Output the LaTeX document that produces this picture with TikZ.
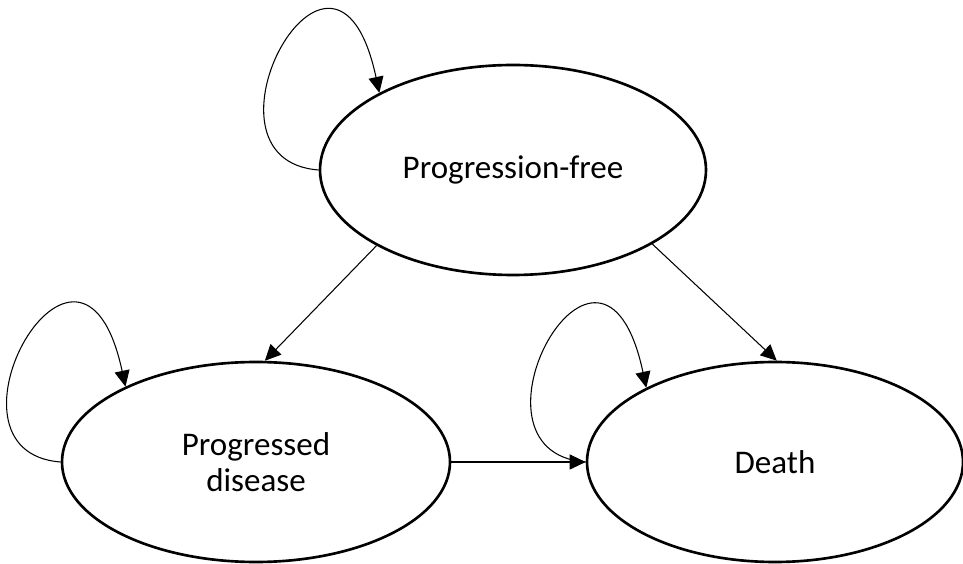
\documentclass[tikz,border=0pt]{standalone}
\usepackage{fontspec}
\setmainfont{Carlito}
\usepackage{tikz}
\usetikzlibrary{arrows.meta, shapes.geometric}
\tikzset{every state node/.style={draw,shape=ellipse,line width=1.5pt,inner sep=0pt,align=center,font=\fontsize{18.8}{20.5}\selectfont}}
\tikzset{state/.style={every state node}}
\tikzset{self loop/.style={->,line width=0.6pt}}

\begin{document}
\begin{tikzpicture}[>={Triangle[length=3.2mm,width=3mm]},line width=0.6pt]
                    \useasboundingbox (0,0) rectangle (19.26,11.26);
                    \node[state,minimum width=7.72cm,minimum height=4.2cm](S1) at (10.26,7.86){Progression-free};
                    \node[state,minimum width=7.76cm,minimum height=4cm](S2) at (5.12,2.02){Progressed\\disease};
                    \node[state,minimum width=7.52cm,minimum height=4cm](S3) at (15.5,2.02){Death};

                    \draw[self loop] (S1.west) .. controls +(-2.7,0.2) and +(-0.9,4.2) .. (S1.150);
                    \draw[self loop] (S2.west) .. controls +(-2.7,0.2) and +(-0.9,4.2) .. (S2.150);
                    \draw[self loop] (S3.west) .. controls +(-2.7,0.2) and +(-0.9,4.2) .. (S3.150);
                    \path[->] (S1.209) edge (S2.85);
                    \path[->] (S1.332) edge (S3.89);
                    \path[->] (S2.east) edge (S3.west);

                \end{tikzpicture}
\end{document}
